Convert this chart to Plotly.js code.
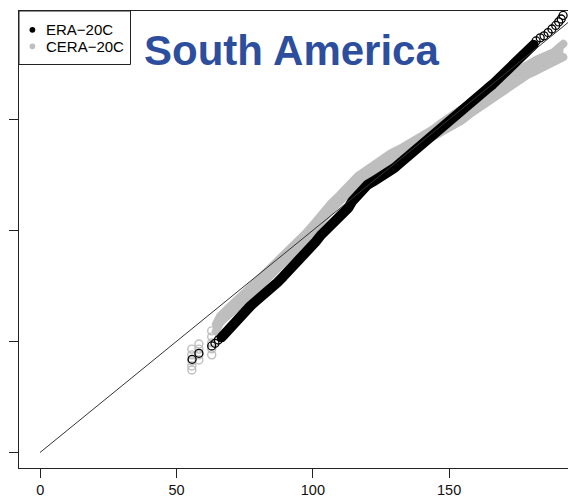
<!DOCTYPE html>
<html>
<head>
<meta charset="utf-8">
<script src="https://cdn.plot.ly/plotly-3.0.1.min.js"></script>
<style>
  html, body { margin: 0; padding: 0; background: #fff; overflow: hidden; }
  #chart { width: 568px; height: 502px; }
  /* rounded joins and ends for the thick quantile bands */
  .js-line { stroke-linejoin: round; stroke-linecap: round; }
</style>
</head>
<body>
<div id="chart"></div>
<script>
// ERA-20C quantiles: sparse lower tail, dense body, sparse upper tail
const eraLowX = [55.7, 58.2, 62.9, 64.1, 65.3];
const eraLowY = [41.9, 44.6, 47.9, 49.1, 50.6];

const eraX = [66.5, 67, 69, 71, 73, 75, 77, 79, 81, 83,
              85, 87, 89, 91, 93, 95, 97, 99, 101, 103,
              105, 107, 109, 111, 113, 114.5, 116, 117, 118.5, 120,
              122, 124, 126, 128, 130, 132, 134, 136, 138, 140,
              142, 144, 146, 148, 150, 152, 154, 156, 158, 160,
              162, 164, 166, 168, 170, 172, 174, 176, 178, 180, 181];
const eraY = [51.8, 52.5, 55.5, 58.5, 61.2, 63.5, 65.8, 68.0, 69.9, 71.9,
              74.0, 76.5, 79.0, 81.4, 83.9, 86.3, 89.1, 91.9, 94.8, 97.9,
              100.4, 102.5, 104.6, 106.8, 110.1, 113.2, 115.6, 117.3, 119.4, 120.5,
              121.9, 123.3, 124.7, 126.3, 128.2, 130.3, 132.4, 134.7, 137.2, 139.7,
              141.9, 144.1, 146.3, 148.5, 150.5, 152.5, 154.4, 156.3, 158.2, 160.1,
              161.9, 163.8, 165.8, 168.0, 170.2, 172.4, 174.6, 176.7, 179.5, 182.2, 183.6];

const eraHighX = [181.9, 183.4, 184.8, 186.3, 187.7, 189.1, 190.2, 191.1, 191.8];
const eraHighY = [185.3, 186.7, 187.6, 189.1, 190.7, 192.3, 193.9, 195.2, 196.8];

// CERA-20C ensemble: lowest quantiles per member, then the member spread (low / high)
const ceraLowX = [55.6, 55.6, 55.6, 55.6, 55.6, 58.2, 58.2, 58.2, 58.2, 62.9, 62.9, 62.9, 62.9, 62.9];
const ceraLowY = [46.5, 43.9, 41.2, 38.9, 37.1, 48.8, 46.5, 43.9, 41.6, 54.7, 52.0, 49.3, 46.6, 43.9];

const ceraX = [64.4, 65.9, 67.7, 69.6, 72.5, 75.7, 78.8, 81.7, 84.6, 87.9,
               91.2, 94.5, 97.5, 100.8, 103.7, 106.6, 110.0, 113.6, 116.6, 119.8,
               122.8, 125.7, 128.7, 132.0, 134.9, 138.1, 141.2, 144.1, 147.0, 151.4,
               154.7, 157.7, 160.6, 163.8, 166.9, 169.9, 172.7, 176.0, 179.0, 182.2,
               185.2, 188.3, 190.4, 191.9];
const ceraLoY = [54.6, 58.2, 60.4, 62.2, 65.4, 69.0, 72.6, 76.4, 80.2, 84.3,
                 87.9, 91.5, 95.1, 100.5, 105.4, 109.0, 113.1, 118.5, 121.6, 124.3,
                 127.0, 129.7, 131.8, 133.8, 135.8, 137.9, 140.3, 142.6, 144.3, 146.8,
                 149.5, 152.4, 154.9, 157.1, 159.8, 162.5, 165.2, 167.9, 170.2, 172.0,
                 173.6, 175.2, 176.5, 178.0];
const ceraHiY = [57.7, 61.3, 63.5, 65.4, 69.1, 72.7, 76.3, 80.1, 83.9, 88.0,
                 91.6, 95.2, 98.8, 103.5, 108.4, 112.0, 116.1, 121.5, 124.6, 127.3,
                 130.0, 132.7, 134.8, 136.8, 138.8, 140.9, 143.3, 145.6, 148.3, 151.8,
                 154.5, 157.4, 159.9, 162.1, 164.8, 167.5, 170.2, 172.9, 175.2, 177.0,
                 178.6, 180.2, 182.5, 184.0];

// 1:1 reference line
const refX = [0, 200];
const refY = [0, 200];

const tickVals = [0, 50, 100, 150];
const seriesNames = ['ERA\u221220C', 'CERA\u221220C'];
const regionTitle = 'South America';

// ---- layout geometry (pixels) ----
const W = 568, H = 502;
const M = { l: 19, r: 0, t: 11, b: 34 };
const plotW = W - M.l - M.r, plotH = H - M.t - M.b;
const fx = v => (v - M.l) / plotW;          // pixel x -> paper x
const fy = v => (H - M.b - v) / plotH;      // pixel y -> paper y

const BLACK = '#000000';
const GREY = '#bebebe';
const AXIS = '#222222';
const FONT = 'Liberation Sans, Arial, Helvetica, sans-serif';

const traces = [
  { x: ceraLowX, y: ceraLowY, type: 'scatter', mode: 'markers',
    marker: { symbol: 'circle-open', size: 8, color: GREY, line: { width: 1.4 } },
    hoverinfo: 'skip' },
  { x: ceraX, y: ceraLoY, type: 'scatter', mode: 'lines',
    line: { color: GREY, width: 8 }, hoverinfo: 'skip' },
  { x: ceraX, y: ceraHiY, type: 'scatter', mode: 'lines', fill: 'tonexty',
    fillcolor: GREY, line: { color: GREY, width: 8 }, hoverinfo: 'skip' },
  { x: eraX, y: eraY, type: 'scatter', mode: 'lines',
    line: { color: BLACK, width: 10 }, hoverinfo: 'skip' },
  { x: eraLowX, y: eraLowY, type: 'scatter', mode: 'markers',
    marker: { symbol: 'circle-open', size: 8, color: BLACK, line: { width: 1.3 } },
    hoverinfo: 'skip' },
  { x: eraHighX, y: eraHighY, type: 'scatter', mode: 'markers',
    marker: { symbol: 'circle-open', size: 8, color: BLACK, line: { width: 1.3 } },
    hoverinfo: 'skip' },
  { x: refX, y: refY, type: 'scatter', mode: 'lines',
    line: { color: '#333333', width: 1 }, hoverinfo: 'skip' }
];

const layout = {
  width: W, height: H,
  margin: { l: M.l, r: M.r, t: M.t, b: M.b, pad: 0 },
  paper_bgcolor: '#ffffff', plot_bgcolor: '#ffffff',
  showlegend: false,
  xaxis: {
    range: [-7.8, 193.6], tickvals: tickVals, ticktext: tickVals.map(String),
    ticks: 'outside', ticklen: 9, tickwidth: 1, tickcolor: AXIS,
    showline: true, linecolor: AXIS, linewidth: 1, mirror: true,
    showgrid: false, zeroline: false,
    tickfont: { family: FONT, size: 14.5, color: '#111111' }
  },
  yaxis: {
    range: [-7.07, 198.8], tickvals: tickVals, showticklabels: false,
    ticks: 'outside', ticklen: 9, tickwidth: 1, tickcolor: AXIS,
    showline: true, linecolor: AXIS, linewidth: 1, mirror: false,
    showgrid: false, zeroline: false
  },
  shapes: [
    { type: 'rect', xref: 'paper', yref: 'paper',
      x0: fx(19), x1: fx(130.5), y0: fy(64.5), y1: fy(11),
      line: { color: AXIS, width: 1 }, fillcolor: 'rgba(0,0,0,0)' },
    { type: 'circle', xref: 'paper', yref: 'paper',
      x0: fx(29.5), x1: fx(35.3), y0: fy(32.7), y1: fy(26.9),
      line: { width: 0 }, fillcolor: BLACK },
    { type: 'circle', xref: 'paper', yref: 'paper',
      x0: fx(29.5), x1: fx(35.3), y0: fy(49.2), y1: fy(43.4),
      line: { width: 0 }, fillcolor: GREY }
  ],
  annotations: [
    { text: '<b>' + regionTitle + '</b>', xref: 'paper', yref: 'paper',
      x: fx(142), y: fy(50.8), xanchor: 'left', yanchor: 'middle', showarrow: false,
      font: { family: FONT, size: 42, color: '#2d4e9c' } },
    { text: seriesNames[0], xref: 'paper', yref: 'paper',
      x: fx(44), y: fy(29.8), xanchor: 'left', yanchor: 'middle', showarrow: false,
      font: { family: FONT, size: 15, color: '#000000' } },
    { text: seriesNames[1], xref: 'paper', yref: 'paper',
      x: fx(44), y: fy(46.4), xanchor: 'left', yanchor: 'middle', showarrow: false,
      font: { family: FONT, size: 15, color: '#000000' } }
  ]
};

Plotly.newPlot('chart', traces, layout, { staticPlot: true, displayModeBar: false });
</script>
</body>
</html>
